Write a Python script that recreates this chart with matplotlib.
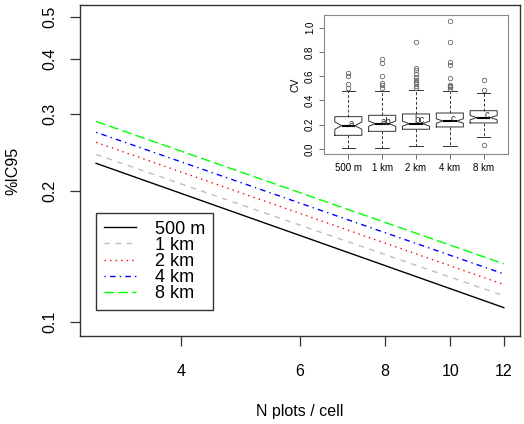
import matplotlib
matplotlib.use("Agg")
import matplotlib.pyplot as plt
from matplotlib.ticker import FixedLocator, FixedFormatter, NullLocator

plt.rcParams['font.family'] = ['Liberation Sans', 'DejaVu Sans']

# main panel: %IC95 vs number of plots per cell (log-log, straight lines)
n_plots = [3, 12]
series_names = ["500 m", "1 km", "2 km", "4 km", "8 km"]
ic95_500m = [0.231, 0.108]
ic95_1km = [0.242, 0.115]
ic95_2km = [0.258, 0.122]
ic95_4km = [0.272, 0.129]
ic95_8km = [0.288, 0.136]
colors = ["#000000", "#bebebe", "#ff0000", "#0000ff", "#00ff00"]
dash_styles = ["solid", (0, (4, 4)), (0, (1, 3)), (0, (1, 3, 4, 3)), (0, (7, 3))]

x_ticks = [4, 6, 8, 10, 12]
y_ticks = [0.1, 0.2, 0.3, 0.4, 0.5]

# inset: CV boxplots by cell size
box_labels = ["500 m", "1 km", "2 km", "4 km", "8 km"]
q1 = [0.112, 0.145, 0.162, 0.181, 0.214]
med = [0.192, 0.208, 0.208, 0.230, 0.258]
q3 = [0.266, 0.277, 0.288, 0.296, 0.315]
whislo = [0.005, 0.005, 0.027, 0.027, 0.101]
whishi = [0.477, 0.480, 0.482, 0.477, 0.460]
ci_half = [0.030, 0.022, 0.020, 0.018, 0.018]
outliers = [
    [0.50, 0.537, 0.603, 0.625],
    [0.504, 0.529, 0.54, 0.603, 0.707, 0.745],
    [0.50, 0.52, 0.54, 0.55, 0.57, 0.59, 0.62, 0.647, 0.666, 0.879],
    [0.49, 0.51, 0.52, 0.53, 0.584, 0.688, 0.715, 0.885, 1.058],
    [0.036, 0.485, 0.564],
]
letters = ["a", "ab", "bc", "c", "c"]
letter_y = [0.208, 0.225, 0.235, 0.25, 0.28]

fig = plt.figure(figsize=(5.24, 4.24), dpi=100)
ax = fig.add_axes([80 / 524, 1 - 336 / 424, 440 / 524, 331 / 424])

all_series = [ic95_500m, ic95_1km, ic95_2km, ic95_4km, ic95_8km]
for name, vals, c, ls in zip(series_names, all_series, colors, dash_styles):
    ax.plot(n_plots, vals, color=c, linestyle=ls, lw=1.0, label=name)

ax.set_xscale("log")
ax.set_yscale("log")
ax.set_xlim(2.84, 12.68)
ax.set_ylim(0.093, 0.532)
ax.xaxis.set_major_locator(FixedLocator(x_ticks))
ax.xaxis.set_major_formatter(FixedFormatter([str(t) for t in x_ticks]))
ax.xaxis.set_minor_locator(NullLocator())
ax.yaxis.set_major_locator(FixedLocator(y_ticks))
ax.yaxis.set_major_formatter(FixedFormatter([str(t) for t in y_ticks]))
ax.yaxis.set_minor_locator(NullLocator())
ax.tick_params(labelsize=11.5, length=7, width=0.9, color="#333333", pad=9)
ax.tick_params(axis="x", pad=13)
for lab in ax.get_yticklabels():
    lab.set_rotation(90)
    lab.set_va("center")
for s in ax.spines.values():
    s.set_color("#333333")
    s.set_linewidth(1.0)
ax.set_xlabel("N plots / cell", fontsize=11.5, labelpad=18)
ax.set_ylabel("%IC95", fontsize=11.5, labelpad=16)

leg = ax.legend(loc="lower left", bbox_to_anchor=(0.036, 0.078), borderaxespad=0,
                fontsize=13, fancybox=False, framealpha=1, edgecolor="#333333",
                handlelength=1.8, handletextpad=1.0, labelspacing=-0.05,
                borderpad=0.45)
leg.get_frame().set_linewidth(1.0)

# inset boxplot
ax2 = fig.add_axes([324 / 524, 1 - 154 / 424, 184 / 524, 139 / 424])
stats = []
for i in range(5):
    stats.append(dict(med=med[i], q1=q1[i], q3=q3[i], whislo=whislo[i],
                      whishi=whishi[i], fliers=outliers[i],
                      cilo=med[i] - ci_half[i], cihi=med[i] + ci_half[i]))
ax2.bxp(stats, positions=range(1, 6), widths=0.8, shownotches=True,
        boxprops=dict(color="#333333", lw=0.7),
        whiskerprops=dict(color="#333333", lw=0.7, linestyle=(0, (3, 2))),
        capprops=dict(color="#333333", lw=0.7),
        medianprops=dict(color="black", lw=1.5),
        flierprops=dict(marker="o", markersize=3.2, markerfacecolor="none",
                        markeredgecolor="#666666", markeredgewidth=0.6))
for i in range(5):
    ax2.text(i + 1.1, letter_y[i], letters[i], fontsize=7, ha="center",
             va="center", color="#333333")
ax2.set_xlim(0.28, 5.72)
ax2.set_ylim(-0.042, 1.104)
ax2.set_xticks(range(1, 6))
ax2.set_xticklabels(box_labels)
ax2.set_yticks([0.0, 0.2, 0.4, 0.6, 0.8, 1.0])
ax2.set_yticklabels(["0.0", "0.2", "0.4", "0.6", "0.8", "1.0"], rotation=90,
                    va="center")
ax2.tick_params(labelsize=7, length=3.5, width=0.6, color="#555555", pad=3)
for s in ax2.spines.values():
    s.set_color("#888888")
    s.set_linewidth(0.8)
ax2.set_ylabel("CV", fontsize=7.5, labelpad=3)

fig.savefig("out.png", dpi=100)
